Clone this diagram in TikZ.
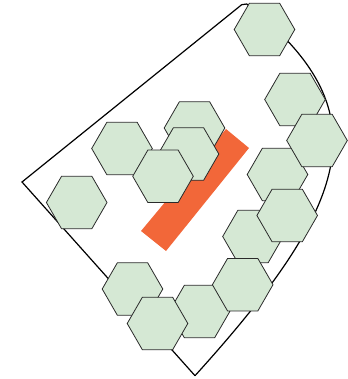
\documentclass[tikz,border=0pt]{standalone}
\usepackage{tikz}
\definecolor{hexfill}{HTML}{D5E8D4}
\definecolor{hexline}{HTML}{2A2A2A}
\definecolor{bar}{HTML}{F26739}
\tikzset{
  hexs/.style={draw=hexline, fill=hexfill, line width=0.8pt, line join=miter},
  outline/.style={draw=black, line width=1.2pt, line join=miter},
  barstyle/.style={fill=bar, draw=none}
}
\newcommand{\hexat}[2]{\draw[hexs] (#1,#2) +(0:30.3) -- +(60:30.3) -- +(120:30.3) -- +(180:30.3) -- +(240:30.3) -- +(300:30.3) -- cycle;}
\begin{document}
\begin{tikzpicture}[x=1pt,y=-1pt]
\useasboundingbox (0,0) rectangle (347,379);
% outline
\coordinate (L) at (22,182);
\coordinate (T) at (241.7,4.7);
\coordinate (T2) at (246.7,4);
\coordinate (B) at (195,375.7);
\draw[outline] (B) -- (L) -- (T) -- (T2) .. controls (380,109) and (356,198) .. (B);
% orange bar
\fill[barstyle] (226,129) -- (249,148) -- (166,251) -- (141,231) -- cycle;
% hexagons, back to front
\hexat{76.7}{202.5}
\hexat{122}{148.5}
\hexat{194.5}{128}
\hexat{188.5}{154}
\hexat{163}{176.3}
\hexat{132.5}{289}
\hexat{199.5}{311.5}
\hexat{157.5}{323.5}
\hexat{253}{236.5}
\hexat{242.7}{284.7}
\hexat{277.5}{174.5}
\hexat{287.2}{215.5}
\hexat{295}{99.5}
\hexat{317}{140.5}
\hexat{264.5}{29.5}
\end{tikzpicture}
\end{document}
